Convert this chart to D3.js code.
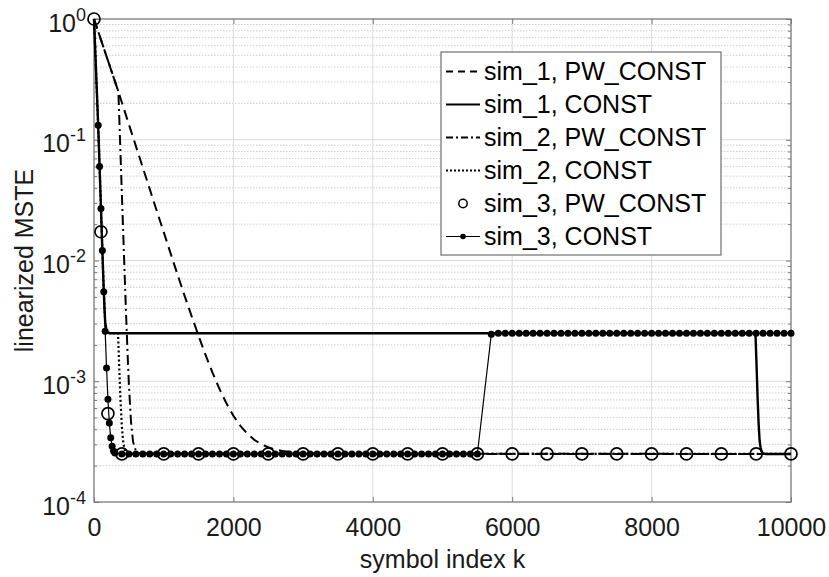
<!DOCTYPE html>
<html><head><meta charset="utf-8">
<script src="https://cdn.jsdelivr.net/npm/d3@7"></script>
<style>
body{margin:0;background:#fff;}
text{font-family:"Liberation Sans",Arial,sans-serif;}
</style></head><body>
<svg id="c" width="829" height="577"></svg>
<script>
// ---------- data ----------
const xTicks=[0,2000,4000,6000,8000,10000];
const yDecades=[1e-4,1e-3,1e-2,1e-1,1];
const yExps=["-4","-3","-2","-1","0"];
const xLabel="symbol index k";
const yLabel="linearized MSTE";
const legendNames=["sim_1, PW_CONST","sim_1, CONST","sim_2, PW_CONST","sim_2, CONST","sim_3, PW_CONST","sim_3, CONST"];

// sim_1, PW_CONST (dashed)
const s1pwK=[0,350,400,500,600,700,800,900,1000,1100,1200,1300,1400,1500,1600,1700,1800,1900,2000,2100,2200,2300,2400,2500,2600,2700,2800,3000,3500,10000];
const s1pwV=[1,0.25,0.2035,0.1345,0.089,0.0588,0.039,0.0258,0.0172,0.0114,0.0076,0.0051,0.00347,0.00238,0.00165,0.00118,0.000864,0.000656,0.000518,0.000427,0.000367,0.000327,0.000301,0.000284,0.000272,0.000265,0.00026,0.000254,0.00025,0.00025];
// sim_1, CONST (solid)
const s1cK=[0,60,80,100,120,140,160,180,200,230,300,9490,9505,9520,9535,9550,9565,9580,9600,9630,10000];
const s1cV=[1,0.132,0.06,0.027,0.0121,0.0056,0.0031,0.0026,0.00252,0.0025,0.0025,0.0025,0.0014,0.00075,0.00045,0.00032,0.00028,0.00026,0.000253,0.00025,0.00025];
// sim_2, PW_CONST (dash-dot)
const s2pwK=[0,350,365,380,400,420,440,460,480,500,530,560,600,650,10000];
const s2pwV=[1,0.25,0.139,0.0773,0.0353,0.0164,0.0076,0.00362,0.00179,0.000955,0.000468,0.000317,0.000264,0.000252,0.00025];
// sim_2, CONST (dotted)
const s2cK=[0,60,80,100,120,140,160,180,200,230,345,360,380,400,420,440,470,520,10000];
const s2cV=[1,0.132,0.06,0.027,0.0121,0.0056,0.0031,0.0026,0.00252,0.0025,0.0025,0.0014,0.0007,0.00042,0.00031,0.00027,0.000255,0.00025,0.00025];
// sim_3, PW_CONST (open circles)
const s3pwK=[0,100,200,400,1000,1500,2000,2500,3000,3500,4000,4500,5000,5500,6000,6500,7000,7500,8000,8500,9000,9500,10000];
const s3pwV=[1,0.0173,0.00054,0.00025,0.00025,0.00025,0.00025,0.00025,0.00025,0.00025,0.00025,0.00025,0.00025,0.00025,0.00025,0.00025,0.00025,0.00025,0.00025,0.00025,0.00025,0.00025,0.00025];
// sim_3, CONST (thin line, filled dots)
const s3cK=[0,60,80,100,120,140,160,180,200,220,240,260,280,300,400,500,600,700,800,900,1000,1100,1200,1300,1400,1500,1600,1700,1800,1900,2000,2100,2200,2300,2400,2500,2600,2700,2800,2900,3000,3100,3200,3300,3400,3500,3600,3700,3800,3900,4000,4100,4200,4300,4400,4500,4600,4700,4800,4900,5000,5100,5200,5300,5400,5500,5700,5800,5900,6000,6100,6200,6300,6400,6500,6600,6700,6800,6900,7000,7100,7200,7300,7400,7500,7600,7700,7800,7900,8000,8100,8200,8300,8400,8500,8600,8700,8800,8900,9000,9100,9200,9300,9400,9500,9600,9700,9800,9900,10000];
const s3cV=[1,0.132,0.06,0.027,0.0121,0.0055,0.0026,0.00129,0.00071,0.00045,0.00034,0.00029,0.000265,0.000255,0.00025,0.00025,0.00025,0.00025,0.00025,0.00025,0.00025,0.00025,0.00025,0.00025,0.00025,0.00025,0.00025,0.00025,0.00025,0.00025,0.00025,0.00025,0.00025,0.00025,0.00025,0.00025,0.00025,0.00025,0.00025,0.00025,0.00025,0.00025,0.00025,0.00025,0.00025,0.00025,0.00025,0.00025,0.00025,0.00025,0.00025,0.00025,0.00025,0.00025,0.00025,0.00025,0.00025,0.00025,0.00025,0.00025,0.00025,0.00025,0.00025,0.00025,0.00025,0.00025,0.00245,0.0025,0.0025,0.0025,0.0025,0.0025,0.0025,0.0025,0.0025,0.0025,0.0025,0.0025,0.0025,0.0025,0.0025,0.0025,0.0025,0.0025,0.0025,0.0025,0.0025,0.0025,0.0025,0.0025,0.0025,0.0025,0.0025,0.0025,0.0025,0.0025,0.0025,0.0025,0.0025,0.0025,0.0025,0.0025,0.0025,0.0025,0.0025,0.0025,0.0025,0.0025,0.0025,0.0025];

// ---------- layout ----------
const svg=d3.select("#c");
const L=94,R=791,T=19,B=502;
const x=d3.scaleLinear().domain([0,10000]).range([L,R]);
const y=d3.scaleLog().domain([1e-4,1]).range([B,T]);
const FS=25, axisCol="#7a7a7a";

const minors=[];
yDecades.slice(0,-1).forEach(d=>{for(let i=2;i<=9;i++)minors.push(d*i);});

// grid
const g=svg.append("g");
g.selectAll(".mg").data(minors).join("line")
 .attr("x1",L).attr("x2",R).attr("y1",d=>y(d)).attr("y2",d=>y(d))
 .attr("stroke","#cfcfcf").attr("stroke-width",1).attr("stroke-dasharray","1.5,1.5");
g.selectAll(".gy").data(yDecades.slice(1,-1)).join("line")
 .attr("x1",L).attr("x2",R).attr("y1",d=>y(d)).attr("y2",d=>y(d))
 .attr("stroke","#dcdcdc").attr("stroke-width",1);
g.selectAll(".gx").data(xTicks.slice(1,-1)).join("line")
 .attr("x1",d=>x(d)).attr("x2",d=>x(d)).attr("y1",T).attr("y2",B)
 .attr("stroke","#dcdcdc").attr("stroke-width",1);

// axes (ticks inward)
function styleAx(sel){sel.select(".domain").remove();sel.selectAll("line").attr("stroke",axisCol);}
const axB=svg.append("g").attr("transform",`translate(0,${B})`)
 .call(d3.axisBottom(x).tickValues(xTicks).tickSize(-5).tickPadding(16).tickFormat(d3.format("d")));
styleAx(axB);
axB.selectAll("text").attr("font-size",FS).attr("fill","#1a1a1a").attr("font-family","Liberation Sans, Arial, sans-serif");
const axT=svg.append("g").attr("transform",`translate(0,${T})`)
 .call(d3.axisTop(x).tickValues(xTicks).tickSize(-5).tickFormat(""));
styleAx(axT);
[["L",L,d3.axisLeft],["R",R,d3.axisRight]].forEach(([n,px,fn])=>{
  const a1=svg.append("g").attr("transform",`translate(${px},0)`).call(fn(y).tickValues(yDecades).tickSize(-5).tickFormat(""));
  styleAx(a1);
  const a2=svg.append("g").attr("transform",`translate(${px},0)`).call(fn(y).tickValues(minors).tickSize(-3).tickFormat(""));
  styleAx(a2);
});
svg.append("rect").attr("x",L).attr("y",T).attr("width",R-L).attr("height",B-T)
 .attr("fill","none").attr("stroke",axisCol).attr("stroke-width",1.3);

// y tick labels 10^n
const yl=svg.append("g").selectAll("text").data(yDecades).join("text")
 .attr("x",86).attr("y",d=>y(d)+12.5).attr("text-anchor","end").attr("fill","#1a1a1a").attr("font-size",FS);
yl.append("tspan").text("10");
yl.append("tspan").attr("dy",-11).attr("font-size",18).text((d,i)=>yExps[i]);

// axis titles
svg.append("text").attr("x",(L+R)/2).attr("y",568).attr("text-anchor","middle")
 .attr("font-size",FS).attr("fill","#1a1a1a").text(xLabel);
svg.append("text").attr("transform",`translate(33,${(T+B)/2}) rotate(-90)`).attr("text-anchor","middle")
 .attr("font-size",FS).attr("fill","#1a1a1a").text(yLabel);

// ---------- series ----------
const line=d3.line().x(d=>x(d[0])).y(d=>y(d[1]));
const zip=(K,V)=>K.map((k,i)=>[k,V[i]]);
const styles=[
 {K:s1pwK,V:s1pwV,w:2,dash:"10,6"},
 {K:s2pwK,V:s2pwV,w:2,dash:"10,4,2,4"},
 {K:s2cK,V:s2cV,w:2.2,dash:"2,2.5"},
 {K:s3cK,V:s3cV,w:1.2,dash:null},
 {K:s1cK,V:s1cV,w:2.4,dash:null}
];
const sg=svg.append("g");
styles.forEach(s=>{
  sg.append("path").datum(zip(s.K,s.V)).attr("d",line).attr("fill","none")
   .attr("stroke","#000").attr("stroke-width",s.w).attr("stroke-dasharray",s.dash)
   .attr("stroke-linejoin","round");
});
// sim_3 CONST dots (first point carries no marker)
sg.selectAll(".dot").data(zip(s3cK,s3cV).slice(1)).join("circle")
 .attr("cx",d=>x(d[0])).attr("cy",d=>y(d[1])).attr("r",3.5).attr("fill","#000");
// sim_3 PW circles
sg.selectAll(".oc").data(zip(s3pwK,s3pwV)).join("circle")
 .attr("cx",d=>x(d[0])).attr("cy",d=>y(d[1])).attr("r",6)
 .attr("fill","none").attr("stroke","#000").attr("stroke-width",1.7);

// ---------- legend ----------
const lg=svg.append("g");
lg.append("rect").attr("x",441).attr("y",52).attr("width",280).attr("height",203)
 .attr("fill","#fff").attr("stroke",axisCol).attr("stroke-width",1.3);
const legStyle=[
 {w:2,dash:"7,5",line:true},
 {w:2.2,dash:null,line:true},
 {w:2,dash:"7,3,2,3",line:true},
 {w:2,dash:"2,2",line:true},
 {line:false,circle:true},
 {w:1.2,dash:null,line:true,dot:true}
];
legendNames.forEach((nm,i)=>{
  const cy=71.5+i*33;
  const st=legStyle[i];
  if(st.line) lg.append("line").attr("x1",446).attr("x2",480).attr("y1",cy).attr("y2",cy)
    .attr("stroke","#000").attr("stroke-width",st.w).attr("stroke-dasharray",st.dash);
  if(st.circle) lg.append("circle").attr("cx",463).attr("cy",cy).attr("r",4.2).attr("fill","none").attr("stroke","#000").attr("stroke-width",1.5);
  if(st.dot) lg.append("circle").attr("cx",463).attr("cy",cy).attr("r",2.8).attr("fill","#000");
  lg.append("text").attr("x",484).attr("y",cy+8.5).attr("font-size",FS).attr("fill","#000").text(nm);
});
</script></body></html>
